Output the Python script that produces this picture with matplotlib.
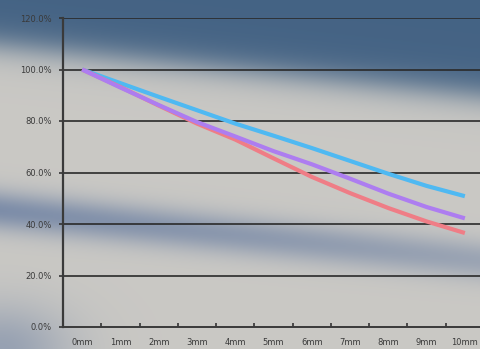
import numpy as np
import matplotlib
matplotlib.use("Agg")
import matplotlib.pyplot as plt

categories = ["0mm", "1mm", "2mm", "3mm", "4mm", "5mm", "6mm", "7mm", "8mm", "9mm", "10mm"]
blue_vals = [100, 94.7, 89.4, 84.2, 79.0, 74.3, 69.5, 64.5, 59.5, 54.8, 50.8]
purple_vals = [100, 93.0, 86.2, 79.6, 74.0, 68.3, 63.2, 57.6, 51.8, 46.6, 42.2]
red_vals = [100, 93.2, 86.0, 79.0, 72.8, 65.5, 58.3, 52.0, 46.2, 41.0, 36.5]
y_ticks = [0, 20, 40, 60, 80, 100, 120]
y_labels = ["0.0%", "20.0%", "40.0%", "60.0%", "80.0%", "100.0%", "120.0%"]

W, H = 481, 349
fig = plt.figure(figsize=(W / 100, H / 100), dpi=100)

# blurred photographic background
yy, xx = np.mgrid[0:H, 0:W].astype(float)
light = np.array([0.79, 0.785, 0.77])
dark = np.array([0.27, 0.39, 0.52])
band = np.array([0.46, 0.53, 0.65])
img = np.ones((H, W, 3)) * light
# top dark region, boundary slopes down to the right
bound = 45 + 50 * (xx / W)
t = 1 / (1 + np.exp((yy - bound) / 9.0))
img = img * (1 - t[..., None]) + dark * t[..., None]
# lower blue band
center = 210 + 50 * (xx / W)
g = np.exp(-((yy - center) / 20.0) ** 2) * (0.9 - 0.35 * (xx / W))
img = img * (1 - g[..., None]) + band * g[..., None]
# bottom-left bluish corner
c = np.exp(-(((xx - 0) / 70.0) ** 2 + ((yy - 349) / 45.0) ** 2)) * 0.6
img = img * (1 - c[..., None]) + band * c[..., None]
bg = fig.add_axes([0, 0, 1, 1])
bg.imshow(img, aspect="auto", extent=[0, W, H, 0])
bg.axis("off")

ax = fig.add_axes([63 / W, 1 - 327 / H, 421 / W, 309 / H])
ax.patch.set_alpha(0)
x = np.arange(len(categories))
ax.plot(x, blue_vals, color="#4fb9f2", lw=3.0, solid_capstyle="butt", zorder=3)
ax.plot(x, red_vals, color="#ef7d86", lw=3.0, solid_capstyle="butt", zorder=3)
ax.plot(x, purple_vals, color="#ad7df0", lw=3.0, solid_capstyle="butt", zorder=4)

ax.set_xlim(-0.5, 10.5)
ax.set_ylim(0, 120)
ax.set_yticks(y_ticks)
ax.set_yticklabels(y_labels)
ax.set_xticks(x)
ax.set_xticklabels(categories)
ax.set_xticks(np.arange(0.5, 10.5, 1), minor=True)
ax.tick_params(axis="x", which="major", length=0, pad=8, labelsize=6, labelcolor="#3a3a3a")
ax.tick_params(axis="x", which="minor", direction="in", length=3, width=1.2, color="#333333")
ax.tick_params(axis="y", direction="out", length=3, width=1.2, color="#333333", pad=5,
               labelsize=6, labelcolor="#3a3a3a")
for yv in y_ticks[1:]:
    ax.axhline(yv, color="#2a2a2a", lw=1.2, zorder=2)
for s in ["top", "right"]:
    ax.spines[s].set_visible(False)
ax.spines["left"].set_color("#3a3a3a")
ax.spines["left"].set_linewidth(1.6)
ax.spines["bottom"].set_color("#3a3a3a")
ax.spines["bottom"].set_linewidth(1.4)

fig.savefig("out.png", dpi=100)
